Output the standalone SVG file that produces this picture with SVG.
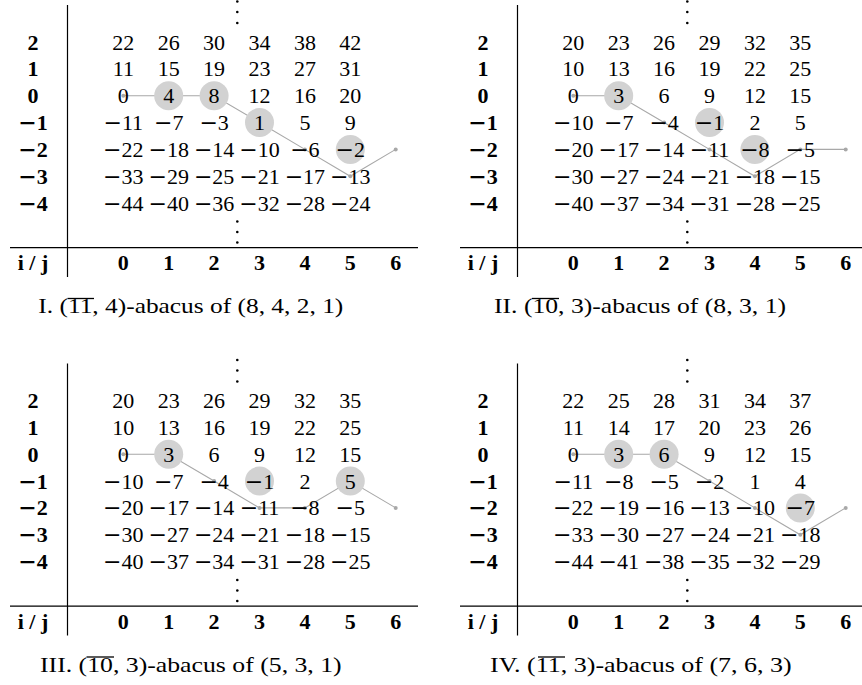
<svg xmlns="http://www.w3.org/2000/svg" width="862" height="685" viewBox="0 0 862 685">
<style>
text{font-family:"Liberation Serif","Times New Roman",serif;font-size:22px;fill:#000}
.n{text-anchor:middle}
.b{font-weight:bold;text-anchor:middle}
.m{font-family:"DejaVu Serif",serif}
.cap{font-size:22px}
.ax{stroke:#000;stroke-width:1.2;fill:none}
.ol{stroke:#000;stroke-width:1.3}
.pth{stroke:#a8a8a8;stroke-width:1.1;fill:none}
.pt{fill:#a8a8a8}
.hl{fill:#d2d2d2}
.dot{fill:#000}
</style>
<defs>
<g id="frame">
<line class="ax" x1="67.5" y1="5" x2="67.5" y2="277"/>
<line class="ax" x1="10" y1="247.7" x2="418" y2="247.7"/>
<circle class="dot" cx="237.3" cy="1.5" r="1.3"/>
<circle class="dot" cx="237.3" cy="12" r="1.3"/>
<circle class="dot" cx="237.3" cy="23" r="1.3"/>
<circle class="dot" cx="237.3" cy="221.5" r="1.3"/>
<circle class="dot" cx="237.3" cy="232" r="1.3"/>
<circle class="dot" cx="237.3" cy="242.5" r="1.3"/>
<text class="b" x="33" y="49.5">2</text>
<text class="b" x="33" y="76.3">1</text>
<text class="b" x="33" y="103.2">0</text>
<text class="b" x="33" y="130"><tspan class="m">−</tspan>1</text>
<text class="b" x="33" y="156.9"><tspan class="m">−</tspan>2</text>
<text class="b" x="33" y="183.7"><tspan class="m">−</tspan>3</text>
<text class="b" x="33" y="210.6"><tspan class="m">−</tspan>4</text>
<text class="b" x="33" y="270">i / j</text>
<text class="b" x="123.3" y="270">0</text>
<text class="b" x="168.7" y="270">1</text>
<text class="b" x="214.1" y="270">2</text>
<text class="b" x="259.5" y="270">3</text>
<text class="b" x="304.9" y="270">4</text>
<text class="b" x="350.3" y="270">5</text>
<text class="b" x="395.7" y="270">6</text>
</g>
</defs>

<g id="panel-1">
<use href="#frame"/>
<g id="connectors-1">
<polyline class="pth" points="123.3,95.7 168.7,95.7 214.1,95.7 259.5,122.55 304.9,149.4 350.3,176.25 395.7,149.4"/>
<circle class="pt" cx="123.3" cy="95.7" r="2"/><circle class="pt" cx="304.9" cy="149.4" r="2"/><circle class="pt" cx="350.3" cy="176.25" r="2"/><circle class="pt" cx="395.7" cy="149.4" r="2"/>
</g>
<g id="beads-1">
<circle class="hl" cx="168.7" cy="95.7" r="14.5"/><circle class="hl" cx="214.1" cy="95.7" r="14.5"/><circle class="hl" cx="259.5" cy="122.55" r="14.5"/><circle class="hl" cx="350.3" cy="149.4" r="14.5"/>
</g>
<g id="values-1" class="n">
<text x="123.3" y="49.5">22</text><text x="168.7" y="49.5">26</text><text x="214.1" y="49.5">30</text><text x="259.5" y="49.5">34</text><text x="304.9" y="49.5">38</text><text x="350.3" y="49.5">42</text>
<text x="123.3" y="76.3">11</text><text x="168.7" y="76.3">15</text><text x="214.1" y="76.3">19</text><text x="259.5" y="76.3">23</text><text x="304.9" y="76.3">27</text><text x="350.3" y="76.3">31</text>
<text x="123.3" y="103.2">0</text><text x="168.7" y="103.2">4</text><text x="214.1" y="103.2">8</text><text x="259.5" y="103.2">12</text><text x="304.9" y="103.2">16</text><text x="350.3" y="103.2">20</text>
<text x="123.3" y="130"><tspan class="m">−</tspan>11</text><text x="168.7" y="130"><tspan class="m">−</tspan>7</text><text x="214.1" y="130"><tspan class="m">−</tspan>3</text><text x="259.5" y="130">1</text><text x="304.9" y="130">5</text><text x="350.3" y="130">9</text>
<text x="123.3" y="156.9"><tspan class="m">−</tspan>22</text><text x="168.7" y="156.9"><tspan class="m">−</tspan>18</text><text x="214.1" y="156.9"><tspan class="m">−</tspan>14</text><text x="259.5" y="156.9"><tspan class="m">−</tspan>10</text><text x="304.9" y="156.9"><tspan class="m">−</tspan>6</text><text x="350.3" y="156.9"><tspan class="m">−</tspan>2</text>
<text x="123.3" y="183.7"><tspan class="m">−</tspan>33</text><text x="168.7" y="183.7"><tspan class="m">−</tspan>29</text><text x="214.1" y="183.7"><tspan class="m">−</tspan>25</text><text x="259.5" y="183.7"><tspan class="m">−</tspan>21</text><text x="304.9" y="183.7"><tspan class="m">−</tspan>17</text><text x="350.3" y="183.7"><tspan class="m">−</tspan>13</text>
<text x="123.3" y="210.6"><tspan class="m">−</tspan>44</text><text x="168.7" y="210.6"><tspan class="m">−</tspan>40</text><text x="214.1" y="210.6"><tspan class="m">−</tspan>36</text><text x="259.5" y="210.6"><tspan class="m">−</tspan>32</text><text x="304.9" y="210.6"><tspan class="m">−</tspan>28</text><text x="350.3" y="210.6"><tspan class="m">−</tspan>24</text>
</g>
<text class="cap" x="38.3" y="313.3" textLength="305" lengthAdjust="spacingAndGlyphs">I. (11, 4)-abacus of (8, 4, 2, 1)</text>
<line class="ol" x1="67.5" y1="298.5" x2="94" y2="298.5"/>
</g>

<g id="panel-2" transform="translate(450,0)">
<use href="#frame"/>
<g id="connectors-2">
<polyline class="pth" points="123.3,95.7 168.7,95.7 214.1,122.55 259.5,149.4 304.9,176.25 350.3,149.4 395.7,149.4"/>
<circle class="pt" cx="123.3" cy="95.7" r="2"/><circle class="pt" cx="214.1" cy="122.55" r="2"/><circle class="pt" cx="259.5" cy="149.4" r="2"/><circle class="pt" cx="304.9" cy="176.25" r="2"/><circle class="pt" cx="350.3" cy="149.4" r="2"/><circle class="pt" cx="395.7" cy="149.4" r="2"/>
</g>
<g id="beads-2">
<circle class="hl" cx="168.7" cy="95.7" r="14.5"/><circle class="hl" cx="259.5" cy="122.55" r="14.5"/><circle class="hl" cx="304.9" cy="149.4" r="14.5"/>
</g>
<g id="values-2" class="n">
<text x="123.3" y="49.5">20</text><text x="168.7" y="49.5">23</text><text x="214.1" y="49.5">26</text><text x="259.5" y="49.5">29</text><text x="304.9" y="49.5">32</text><text x="350.3" y="49.5">35</text>
<text x="123.3" y="76.3">10</text><text x="168.7" y="76.3">13</text><text x="214.1" y="76.3">16</text><text x="259.5" y="76.3">19</text><text x="304.9" y="76.3">22</text><text x="350.3" y="76.3">25</text>
<text x="123.3" y="103.2">0</text><text x="168.7" y="103.2">3</text><text x="214.1" y="103.2">6</text><text x="259.5" y="103.2">9</text><text x="304.9" y="103.2">12</text><text x="350.3" y="103.2">15</text>
<text x="123.3" y="130"><tspan class="m">−</tspan>10</text><text x="168.7" y="130"><tspan class="m">−</tspan>7</text><text x="214.1" y="130"><tspan class="m">−</tspan>4</text><text x="259.5" y="130"><tspan class="m">−</tspan>1</text><text x="304.9" y="130">2</text><text x="350.3" y="130">5</text>
<text x="123.3" y="156.9"><tspan class="m">−</tspan>20</text><text x="168.7" y="156.9"><tspan class="m">−</tspan>17</text><text x="214.1" y="156.9"><tspan class="m">−</tspan>14</text><text x="259.5" y="156.9"><tspan class="m">−</tspan>11</text><text x="304.9" y="156.9"><tspan class="m">−</tspan>8</text><text x="350.3" y="156.9"><tspan class="m">−</tspan>5</text>
<text x="123.3" y="183.7"><tspan class="m">−</tspan>30</text><text x="168.7" y="183.7"><tspan class="m">−</tspan>27</text><text x="214.1" y="183.7"><tspan class="m">−</tspan>24</text><text x="259.5" y="183.7"><tspan class="m">−</tspan>21</text><text x="304.9" y="183.7"><tspan class="m">−</tspan>18</text><text x="350.3" y="183.7"><tspan class="m">−</tspan>15</text>
<text x="123.3" y="210.6"><tspan class="m">−</tspan>40</text><text x="168.7" y="210.6"><tspan class="m">−</tspan>37</text><text x="214.1" y="210.6"><tspan class="m">−</tspan>34</text><text x="259.5" y="210.6"><tspan class="m">−</tspan>31</text><text x="304.9" y="210.6"><tspan class="m">−</tspan>28</text><text x="350.3" y="210.6"><tspan class="m">−</tspan>25</text>
</g>
<text class="cap" x="44" y="313.3" textLength="292" lengthAdjust="spacingAndGlyphs">II. (10, 3)-abacus of (8, 3, 1)</text>
<line class="ol" x1="82" y1="298.5" x2="109" y2="298.5"/>
</g>

<g id="panel-3" transform="translate(0,358.5)">
<use href="#frame"/>
<g id="connectors-3">
<polyline class="pth" points="123.3,95.7 168.7,95.7 214.1,122.55 259.5,149.4 304.9,149.4 350.3,122.55 395.7,149.4"/>
<circle class="pt" cx="123.3" cy="95.7" r="2"/><circle class="pt" cx="214.1" cy="122.55" r="2"/><circle class="pt" cx="259.5" cy="149.4" r="2"/><circle class="pt" cx="304.9" cy="149.4" r="2"/><circle class="pt" cx="395.7" cy="149.4" r="2"/>
</g>
<g id="beads-3">
<circle class="hl" cx="168.7" cy="95.7" r="14.5"/><circle class="hl" cx="259.5" cy="122.55" r="14.5"/><circle class="hl" cx="350.3" cy="122.55" r="14.5"/>
</g>
<g id="values-3" class="n">
<text x="123.3" y="49.5">20</text><text x="168.7" y="49.5">23</text><text x="214.1" y="49.5">26</text><text x="259.5" y="49.5">29</text><text x="304.9" y="49.5">32</text><text x="350.3" y="49.5">35</text>
<text x="123.3" y="76.3">10</text><text x="168.7" y="76.3">13</text><text x="214.1" y="76.3">16</text><text x="259.5" y="76.3">19</text><text x="304.9" y="76.3">22</text><text x="350.3" y="76.3">25</text>
<text x="123.3" y="103.2">0</text><text x="168.7" y="103.2">3</text><text x="214.1" y="103.2">6</text><text x="259.5" y="103.2">9</text><text x="304.9" y="103.2">12</text><text x="350.3" y="103.2">15</text>
<text x="123.3" y="130"><tspan class="m">−</tspan>10</text><text x="168.7" y="130"><tspan class="m">−</tspan>7</text><text x="214.1" y="130"><tspan class="m">−</tspan>4</text><text x="259.5" y="130"><tspan class="m">−</tspan>1</text><text x="304.9" y="130">2</text><text x="350.3" y="130">5</text>
<text x="123.3" y="156.9"><tspan class="m">−</tspan>20</text><text x="168.7" y="156.9"><tspan class="m">−</tspan>17</text><text x="214.1" y="156.9"><tspan class="m">−</tspan>14</text><text x="259.5" y="156.9"><tspan class="m">−</tspan>11</text><text x="304.9" y="156.9"><tspan class="m">−</tspan>8</text><text x="350.3" y="156.9"><tspan class="m">−</tspan>5</text>
<text x="123.3" y="183.7"><tspan class="m">−</tspan>30</text><text x="168.7" y="183.7"><tspan class="m">−</tspan>27</text><text x="214.1" y="183.7"><tspan class="m">−</tspan>24</text><text x="259.5" y="183.7"><tspan class="m">−</tspan>21</text><text x="304.9" y="183.7"><tspan class="m">−</tspan>18</text><text x="350.3" y="183.7"><tspan class="m">−</tspan>15</text>
<text x="123.3" y="210.6"><tspan class="m">−</tspan>40</text><text x="168.7" y="210.6"><tspan class="m">−</tspan>37</text><text x="214.1" y="210.6"><tspan class="m">−</tspan>34</text><text x="259.5" y="210.6"><tspan class="m">−</tspan>31</text><text x="304.9" y="210.6"><tspan class="m">−</tspan>28</text><text x="350.3" y="210.6"><tspan class="m">−</tspan>25</text>
</g>
<text class="cap" x="40" y="313.3" textLength="301.7" lengthAdjust="spacingAndGlyphs">III. (10, 3)-abacus of (5, 3, 1)</text>
<line class="ol" x1="86.5" y1="298.5" x2="114" y2="298.5"/>
</g>

<g id="panel-4" transform="translate(450,358.5)">
<use href="#frame"/>
<g id="connectors-4">
<polyline class="pth" points="123.3,95.7 168.7,95.7 214.1,95.7 259.5,122.55 304.9,149.4 350.3,176.25 395.7,149.4"/>
<circle class="pt" cx="123.3" cy="95.7" r="2"/><circle class="pt" cx="259.5" cy="122.55" r="2"/><circle class="pt" cx="304.9" cy="149.4" r="2"/><circle class="pt" cx="350.3" cy="176.25" r="2"/><circle class="pt" cx="395.7" cy="149.4" r="2"/>
</g>
<g id="beads-4">
<circle class="hl" cx="168.7" cy="95.7" r="14.5"/><circle class="hl" cx="214.1" cy="95.7" r="14.5"/><circle class="hl" cx="350.3" cy="149.4" r="14.5"/>
</g>
<g id="values-4" class="n">
<text x="123.3" y="49.5">22</text><text x="168.7" y="49.5">25</text><text x="214.1" y="49.5">28</text><text x="259.5" y="49.5">31</text><text x="304.9" y="49.5">34</text><text x="350.3" y="49.5">37</text>
<text x="123.3" y="76.3">11</text><text x="168.7" y="76.3">14</text><text x="214.1" y="76.3">17</text><text x="259.5" y="76.3">20</text><text x="304.9" y="76.3">23</text><text x="350.3" y="76.3">26</text>
<text x="123.3" y="103.2">0</text><text x="168.7" y="103.2">3</text><text x="214.1" y="103.2">6</text><text x="259.5" y="103.2">9</text><text x="304.9" y="103.2">12</text><text x="350.3" y="103.2">15</text>
<text x="123.3" y="130"><tspan class="m">−</tspan>11</text><text x="168.7" y="130"><tspan class="m">−</tspan>8</text><text x="214.1" y="130"><tspan class="m">−</tspan>5</text><text x="259.5" y="130"><tspan class="m">−</tspan>2</text><text x="304.9" y="130">1</text><text x="350.3" y="130">4</text>
<text x="123.3" y="156.9"><tspan class="m">−</tspan>22</text><text x="168.7" y="156.9"><tspan class="m">−</tspan>19</text><text x="214.1" y="156.9"><tspan class="m">−</tspan>16</text><text x="259.5" y="156.9"><tspan class="m">−</tspan>13</text><text x="304.9" y="156.9"><tspan class="m">−</tspan>10</text><text x="350.3" y="156.9"><tspan class="m">−</tspan>7</text>
<text x="123.3" y="183.7"><tspan class="m">−</tspan>33</text><text x="168.7" y="183.7"><tspan class="m">−</tspan>30</text><text x="214.1" y="183.7"><tspan class="m">−</tspan>27</text><text x="259.5" y="183.7"><tspan class="m">−</tspan>24</text><text x="304.9" y="183.7"><tspan class="m">−</tspan>21</text><text x="350.3" y="183.7"><tspan class="m">−</tspan>18</text>
<text x="123.3" y="210.6"><tspan class="m">−</tspan>44</text><text x="168.7" y="210.6"><tspan class="m">−</tspan>41</text><text x="214.1" y="210.6"><tspan class="m">−</tspan>38</text><text x="259.5" y="210.6"><tspan class="m">−</tspan>35</text><text x="304.9" y="210.6"><tspan class="m">−</tspan>32</text><text x="350.3" y="210.6"><tspan class="m">−</tspan>29</text>
</g>
<text class="cap" x="40" y="313.3" textLength="301.7" lengthAdjust="spacingAndGlyphs">IV. (11, 3)-abacus of (7, 6, 3)</text>
<line class="ol" x1="88" y1="298.5" x2="115" y2="298.5"/>
</g>
</svg>
